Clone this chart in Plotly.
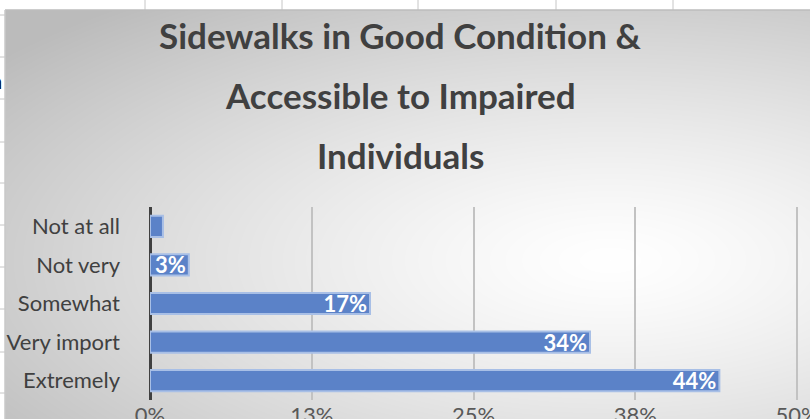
import base64
import struct
import zlib

import numpy as np
import plotly.graph_objects as go

# ---------------- data ----------------
categories = ["Extremely", "Very import", "Somewhat", "Not very", "Not at all"]
values = [0.44, 0.34, 0.17, 0.03, 0.01]
value_labels = ["44%", "34%", "17%", "3%", "1%"]
tick_vals = [0, 0.125, 0.25, 0.375, 0.5]
tick_labels = ["0%", "13%", "25%", "38%", "50%"]
title_lines = ["Sidewalks in Good Condition &", "Accessible to Impaired", "Individuals"]

# ---------------- layout constants ----------------
W, H = 810, 419
X_MAX = 0.5023
L, R, T, B = 150, 10, 207, 19
PW, PH = W - L - R, H - T - B
FONT = "Lato"
TXT = "#404040"


def px_x(px):
    return (px - L) / PW


def px_y(py):
    return (H - B - py) / PH


# ---------------- background gradient (chart area) ----------------
CX0, CY0 = 5, 10  # chart area top-left in px
gw, gh = W - CX0, H - CY0
yy, xx = np.mgrid[0:gh, 0:gw].astype(float)
xx += CX0
yy += CY0
r = np.sqrt(((xx - 610) / 780) ** 2 + ((yy - 260) / 330) ** 2)
v = 255 - 68 * np.clip(r, 0, 1) ** 1.3
img = np.clip(v, 0, 255).astype(np.uint8)


def png_gray(a):
    h, w = a.shape
    raw = b"".join(b"\x00" + a[i].tobytes() for i in range(h))

    def chunk(tag, data):
        c = struct.pack(">I", len(data)) + tag + data
        return c + struct.pack(">I", zlib.crc32(tag + data) & 0xFFFFFFFF)

    return (b"\x89PNG\r\n\x1a\n" + chunk(b"IHDR", struct.pack(">IIBBBBB", w, h, 8, 0, 0, 0, 0))
            + chunk(b"IDAT", zlib.compress(raw, 9)) + chunk(b"IEND", b""))


bg_uri = "data:image/png;base64," + base64.b64encode(png_gray(img)).decode()

# ---------------- figure ----------------
# the smallest bar is too short for its label (clipped away in the original)
label_pos = ["inside" if v >= 0.02 else "none" for v in values]

fig = go.Figure()
fig.add_trace(go.Bar(
    x=values, y=categories, orientation="h",
    text=value_labels, textposition=label_pos, insidetextanchor="end",
    constraintext="none",
    textfont=dict(color="white", size=22, family=FONT, weight="bold"),
    marker=dict(color="#5B82C8", line=dict(color="#A8BFE6", width=2)),
    hoverinfo="skip",
))

shapes = []
# spreadsheet gridlines outside chart
for xv in [145, 282, 418, 556, 673]:
    shapes.append(dict(type="line", xref="paper", yref="paper",
                       x0=px_x(xv), x1=px_x(xv), y0=px_y(0), y1=px_y(CY0),
                       line=dict(color="#c6c6c6", width=1)))
for yv in [15, 57, 99, 142, 183, 225, 267, 309, 352, 393]:
    shapes.append(dict(type="line", xref="paper", yref="paper",
                       x0=px_x(0), x1=px_x(CX0), y0=px_y(yv), y1=px_y(yv),
                       line=dict(color="#c6c6c6", width=1)))
# chart area border
shapes.append(dict(type="line", xref="paper", yref="paper",
                   x0=px_x(CX0), x1=px_x(W), y0=px_y(CY0), y1=px_y(CY0),
                   line=dict(color="#bdbdbd", width=1.5)))
shapes.append(dict(type="line", xref="paper", yref="paper",
                   x0=px_x(CX0), x1=px_x(CX0), y0=px_y(CY0), y1=px_y(H),
                   line=dict(color="#c8c8c8", width=1.5)))

annotations = []
for i, line in enumerate(title_lines):
    annotations.append(dict(text=line, xref="paper", yref="paper",
                            x=px_x(400), y=px_y(35 + 60 * i), xanchor="center", yanchor="middle",
                            showarrow=False,
                            font=dict(family=FONT, size=35, color=TXT, weight="bold")))
annotations.append(dict(text="n", xref="paper", yref="paper", x=px_x(4), y=px_y(80),
                        xanchor="right", yanchor="middle", showarrow=False,
                        font=dict(family=FONT, size=22, color="#000000")))

fig.update_layout(
    width=W, height=H,
    margin=dict(l=L, r=R, t=T, b=B, pad=0, autoexpand=False),
    paper_bgcolor="white", plot_bgcolor="rgba(0,0,0,0)",
    bargap=0.45, showlegend=False,
    shapes=shapes, annotations=annotations,
    images=[dict(source=bg_uri, xref="paper", yref="paper",
                 x=px_x(CX0), y=px_y(CY0), sizex=gw / PW, sizey=gh / PH,
                 xanchor="left", yanchor="top", sizing="stretch", layer="below")],
)
fig.update_xaxes(range=[0, X_MAX], tickvals=tick_vals, ticktext=tick_labels,
                 showgrid=True, gridcolor="#c2c2c2", gridwidth=2,
                 zeroline=True, zerolinecolor="#404040", zerolinewidth=3,
                 showline=False, ticks="", automargin=False, ticklabeloverflow="allow",
                 tickfont=dict(family=FONT, size=22, color="#595959"), fixedrange=True)
fig.update_yaxes(showgrid=False, zeroline=False, showline=False, ticks="",
                 ticklabelstandoff=29, automargin=False,
                 tickfont=dict(family=FONT, size=22, color=TXT), fixedrange=True)

fig.write_html("out.html", config={"displayModeBar": False},
               post_script="document.body.style.margin='0';")
